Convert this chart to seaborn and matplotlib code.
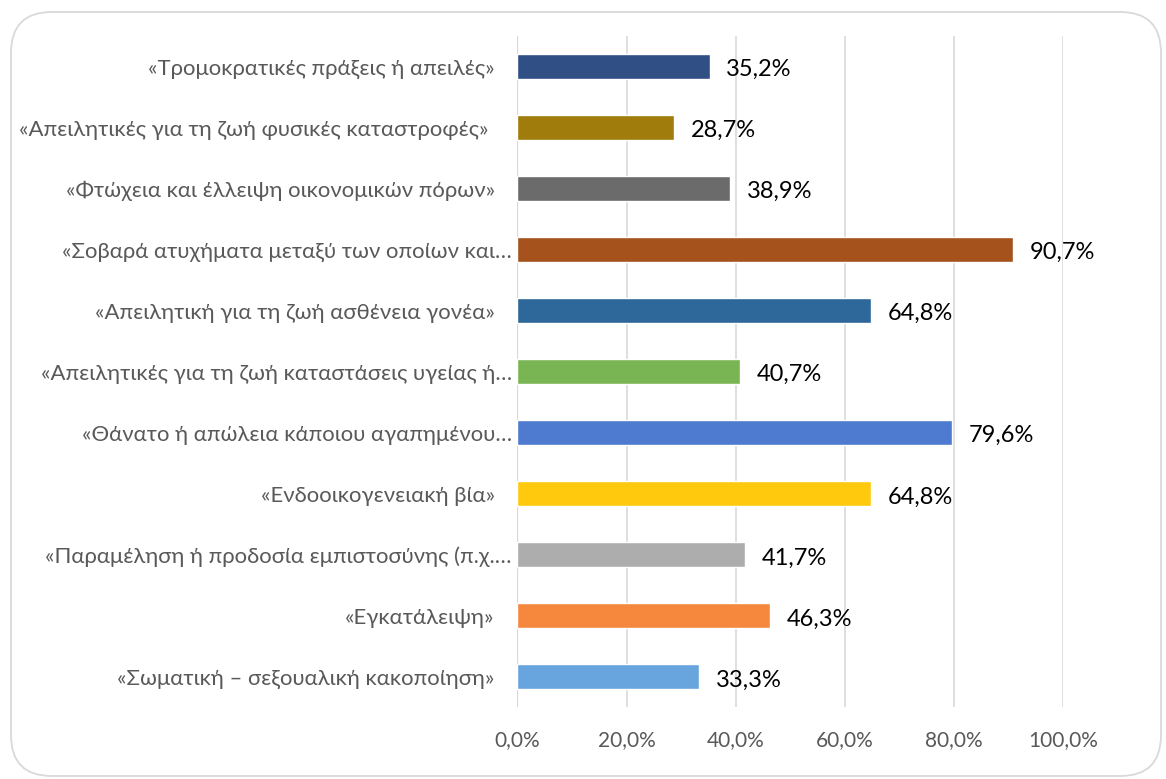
import matplotlib
matplotlib.use("Agg")
import matplotlib.pyplot as plt
from matplotlib.patches import FancyBboxPatch
from matplotlib.transforms import ScaledTranslation
import pandas as pd
import seaborn as sns

# Responses (% of respondents), listed top to bottom
categories = [
    "«Τρομοκρατικές πράξεις ή απειλές»",
    "«Απειλητικές για τη ζωή φυσικές καταστροφές»",
    "«Φτώχεια και έλλειψη οικονομικών πόρων»",
    "«Σοβαρά ατυχήματα μεταξύ των οποίων και…",
    "«Απειλητική για τη ζωή ασθένεια γονέα»",
    "«Απειλητικές για τη ζωή καταστάσεις υγείας ή…",
    "«Θάνατο ή απώλεια κάποιου αγαπημένου…",
    "«Ενδοοικογενειακή βία»",
    "«Παραμέληση ή προδοσία εμπιστοσύνης (π.χ.…",
    "«Εγκατάλειψη»",
    "«Σωματική – σεξουαλική κακοποίηση»",
]
values = [35.2, 28.7, 38.9, 90.7, 64.8, 40.7, 79.6, 64.8, 41.7, 46.3, 33.3]
bar_colors = [
    "#2F4F85", "#A07C0C", "#6B6B6B", "#A6521C", "#2E6799", "#7AB554",
    "#4E7BCF", "#FFC90D", "#ADADAD", "#F5883C", "#68A5DE",
]
x_ticks = [0, 20, 40, 60, 80, 100]

sns.set_theme(style="white")
plt.rcParams["font.family"] = ["Lato", "Open Sans", "DejaVu Sans"]

fig = plt.figure(figsize=(11.66, 7.79), dpi=100)
ax = fig.add_axes([0.4437, 0.0918, 0.4683, 0.8620])

df = pd.DataFrame({"category": categories, "value": values})
sns.barplot(data=df, x="value", y="category", hue="category",
            palette=bar_colors, legend=False, orient="h", width=0.41,
            saturation=1, ax=ax, zorder=3)

ax.set_xlim(0, 100)
ax.set_xticks(x_ticks)
ax.set_xticklabels([f"{t:.1f}%".replace(".", ",") for t in x_ticks])
ax.set_xlabel("")
ax.set_ylabel("")
ax.grid(axis="x", color="#D9D9D9", linewidth=1.2, zorder=0)
ax.axvline(0, color="#D9D9D9", linewidth=1.6, zorder=1)
for s in ax.spines.values():
    s.set_visible(False)
ax.tick_params(axis="both", length=0, labelcolor="#595959")
ax.tick_params(axis="x", pad=16, labelsize=15)
ax.tick_params(axis="y", pad=4, labelsize=15.9)

# labels that end with a closing quote sit further from the axis
for lab in ax.get_yticklabels():
    txt = lab.get_text()
    if txt.endswith("»"):
        shift = -17 if "καταστροφές" not in txt else -23
        lab.set_transform(lab.get_transform() +
                          ScaledTranslation(shift / 100, 0, fig.dpi_scale_trans))

for cont in ax.containers:
    anns = ax.bar_label(cont, labels=[f"{v:.1f}%".replace(".", ",") for v in cont.datavalues],
                        padding=12, fontsize=17, color="black")
    for a in anns:
        dx, dy = a.xyann
        a.xyann = (dx, dy - 2.2)

# rounded frame around the chart
frame = FancyBboxPatch((11 / 1166, 1 - 776 / 779), 1150 / 1166, 764 / 779,
                       boxstyle="round,pad=0,rounding_size=0.035",
                       transform=fig.transFigure, facecolor="none",
                       edgecolor="#D9D9D9", linewidth=1.3,
                       mutation_aspect=1166 / 779)
fig.patches.append(frame)

fig.savefig("out.png", dpi=100)
